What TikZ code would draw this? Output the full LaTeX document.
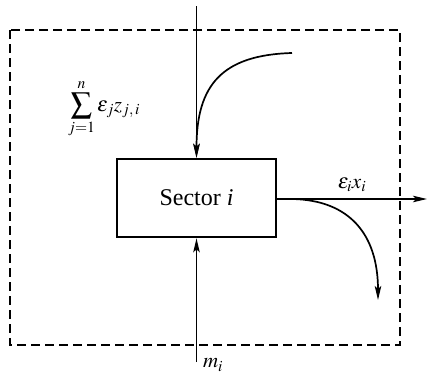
\documentclass[tikz,border=0pt]{standalone}
\usepackage{mathptmx}
\usepackage{fontspec}
\setmainfont{Liberation Serif}
\usetikzlibrary{positioning,arrows.meta}

\begin{document}
\begin{tikzpicture}[
  x=1pt, y=-1pt,
  font=\fontsize{24}{28}\selectfont,
  >={Stealth[length=14pt,width=6.5pt,inset=3pt]}
]
\useasboundingbox (0,0) rectangle (428,378);

% Sector boundary
\draw[dashed, dash pattern=on 9pt off 5pt, line width=1.5pt] (10,30) rectangle (400,345);

% Sector box
\node[draw, line width=2.6pt, minimum width=159pt, minimum height=78pt, inner sep=0pt] (sector) at (196.5,198) {Sector \textit{i}};

% Inflows from above
\coordinate (top) at (196.5,6);
\coordinate (curvein) at (292,53);
\draw[->, line width=1.7pt] (top) -- (sector.north -| top);
\draw[->, line width=1.7pt] (curvein) .. controls (222,55) and (196.5,85) .. (sector.north -| top);
\node[font=\fontsize{21}{24}\selectfont] (sum) at (104,109) {$\displaystyle\sum_{j=1}^{n}\varepsilon_j z_{j,\,i}$};

% Imports from below
\coordinate (bottom) at (196.5,362);
\draw[->, line width=1.7pt] (bottom) -- (sector.south -| bottom);
\node[font=\fontsize{21}{24}\selectfont, right=3pt of bottom, yshift=-3pt] (mi) {$m_i$};

% Outflows
\coordinate (out) at (427,199);
\coordinate (down) at (378,300);
\draw[->, line width=1.7pt] (sector.east |- out) -- (out);
\node[font=\fontsize{21}{24}\selectfont] (exi) at (352,185) {$\varepsilon_i x_i$};
\draw[->, line width=1.7pt] (292,199) .. controls (350,200) and (378,235) .. (down);

\end{tikzpicture}
\end{document}
